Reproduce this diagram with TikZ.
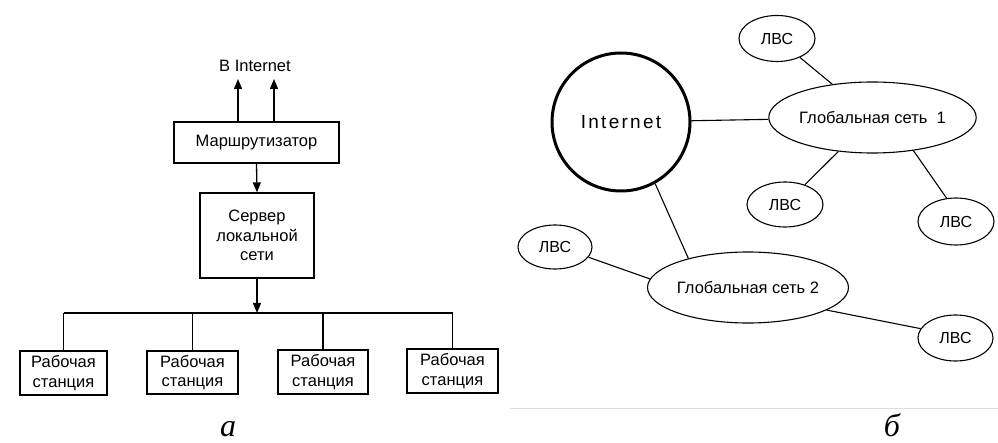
\documentclass[tikz,border=0pt]{standalone}
\usepackage{fontspec}
\setmainfont{Liberation Sans}
\newfontfamily\capfont{Liberation Serif}
\usetikzlibrary{arrows.meta,shapes.geometric}
\begin{document}
\begin{tikzpicture}[x=1pt,y=-1pt,
  box/.style={draw,line width=1.2pt,inner sep=0pt,align=center,font=\fontsize{16.5}{19.5}\selectfont},
  lvs/.style={draw,ellipse,line width=1.1pt,inner sep=0pt,font=\fontsize{16}{18}\selectfont},
  gnet/.style={draw,ellipse,line width=1.1pt,inner sep=0pt,minimum width=195pt,minimum height=71pt,font=\fontsize{16.5}{18}\selectfont},
  conn/.style={line width=1.1pt},
  arr/.style={line width=1.3pt,-{Triangle[length=10pt,width=8pt]}},
  subcap/.style={font=\capfont\itshape\fontsize{32}{32}\selectfont,anchor=base,inner sep=0pt,text depth=0pt}]
\useasboundingbox (0,0) rectangle (998,443);
% ---------- a ----------
\node[box,minimum width=165pt,minimum height=41pt] (router) at (256.5,142.5) {Маршрутизатор};
\node[box,minimum width=114pt,minimum height=85pt] (server) at (257,235.5) {Сервер\\локальной\\сети};
\node[box,minimum width=87pt,minimum height=44pt] (ws1) at (63.5,373) {Рабочая\\станция};
\node[box,minimum width=91pt,minimum height=43pt] (ws2) at (192.5,372.5) {Рабочая\\станция};
\node[box,minimum width=90pt,minimum height=44pt] (ws3) at (323,372) {Рабочая\\станция};
\node[box,minimum width=91pt,minimum height=44pt] (ws4) at (452.5,371) {Рабочая\\станция};
\node[font=\fontsize{16.5}{18}\selectfont,inner sep=0pt] (inettxt) at (255,66) {В Internet};
\coordinate (up1) at (238,79);
\coordinate (up2) at (274,79);
\coordinate (bus) at (257,313);
\draw[arr] (router.north -| up1) -- (up1);
\draw[arr] (router.north -| up2) -- (up2);
\draw[arr] (router.south) -- (server.north);
\draw[arr] (server.south) -- (bus);
\draw[conn,line width=1.2pt] (ws1.north |- bus) -- (ws4.north |- bus);
\foreach \w in {ws1,ws2,ws3,ws4}
  \draw[conn,line width=1.2pt] (\w.north |- bus) -- (\w.north);
\node[subcap] (capa) at (228,436) {а};
% ---------- b ----------
\node[draw,circle,line width=3pt,minimum size=138pt,inner sep=0pt,font=\fontsize{19}{22}\selectfont\addfontfeature{LetterSpace=12}] (inet) at (621,122) {Internet};
\node[gnet] (gn1) at (872.5,117.5) {Глобальная сеть \ 1};
\node[gnet,minimum width=194pt] (gn2) at (748,287.5) {Глобальная сеть 2};
\node[lvs,minimum width=76pt,minimum height=46pt] (l1) at (777,38.5) {ЛВС};
\node[lvs,minimum width=76pt,minimum height=45pt] (l2) at (785,204.5) {ЛВС};
\node[lvs,minimum width=76pt,minimum height=47pt] (l3) at (956,221.5) {ЛВС};
\node[lvs,minimum width=74pt,minimum height=44pt] (l4) at (555,247) {ЛВС};
\node[lvs,minimum width=75pt,minimum height=46pt] (l5) at (955.5,338) {ЛВС};
\draw[conn] (inet) -- (gn1);
\draw[conn] (l1) -- (gn1);
\draw[conn] (gn1) -- (l2);
\draw[conn] (gn1.-39) -- (l3.112);
\draw[conn] (inet.-61) -- (gn2.154);
\draw[conn] (l4.-17) -- (gn2.175);
\draw[conn] (gn2.-16) -- (l5.165);
\coordinate (edgeL) at (510,408);
\coordinate (edgeR) at (998,408);
\draw[gray!25,line width=0.8pt] (edgeL) -- (edgeR);
\node[subcap] (capb) at (892,436) {б};
\end{tikzpicture}
\end{document}
